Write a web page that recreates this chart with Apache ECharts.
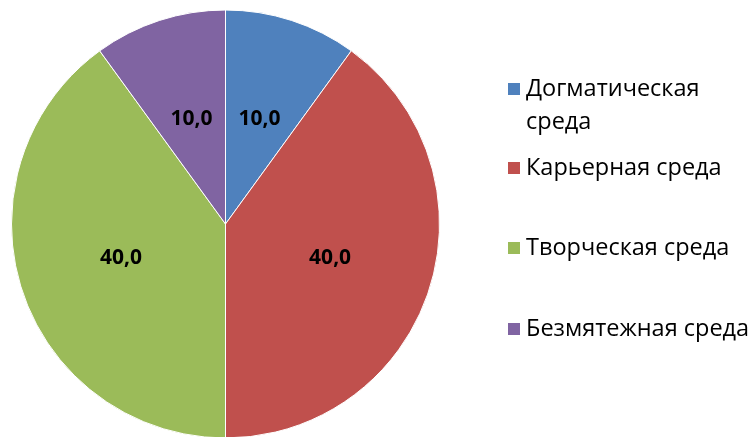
<!DOCTYPE html>
<html>
<head>
<meta charset="utf-8">
<script src="https://cdn.jsdelivr.net/npm/echarts@6/dist/echarts.min.js"></script>
<style>html,body{margin:0;padding:0;background:#fff}#c{width:750px;height:437px}</style>
</head>
<body>
<div id="c"></div>
<script>
var categories = ["Догматическая среда", "Карьерная среда", "Творческая среда", "Безмятежная среда"];
var values = [10.0, 40.0, 40.0, 10.0];
var colors = ["#4F81BD", "#C0504D", "#9BBB59", "#8064A2"];

var chart = echarts.init(document.getElementById('c'), null, {renderer: 'canvas'});
var legendCenters = [89, 168, 248, 329];
var L = 33;
var legends = categories.map(function (name, i) {
  var lines = i === 0 ? 3 : 1;
  return {
    data: [name],
    left: 506,
    top: legendCenters[i] - lines * L / 2,
    padding: 0,
    orient: 'vertical',
    icon: 'rect',
    itemWidth: 14,
    itemHeight: 14,
    textStyle: {fontFamily: 'Open Sans', fontSize: 23.5, color: '#000', lineHeight: L},
    formatter: function (n) { return i === 0 ? '\nДогматическая\nсреда' : n; },
    selectedMode: false
  };
});
chart.setOption({
  animation: false,
  backgroundColor: '#fff',
  color: colors,
  legend: legends,
  series: [{
    type: 'pie',
    center: [225.5, 224],
    radius: [0, 214],
    startAngle: 90,
    clockwise: true,
    data: categories.map(function (n, i) { return {name: n, value: values[i]}; }),
    itemStyle: {borderColor: '#fff', borderWidth: 1},
    label: {
      show: true,
      position: 'inside',
      fontFamily: 'Open Sans',
      fontWeight: 'bold',
      fontSize: 21,
      color: '#000',
      formatter: function (p) { return p.value.toFixed(1).replace('.', ','); }
    },
    labelLine: {show: false},
    emphasis: {disabled: true}
  }]
});
</script>
</body>
</html>
